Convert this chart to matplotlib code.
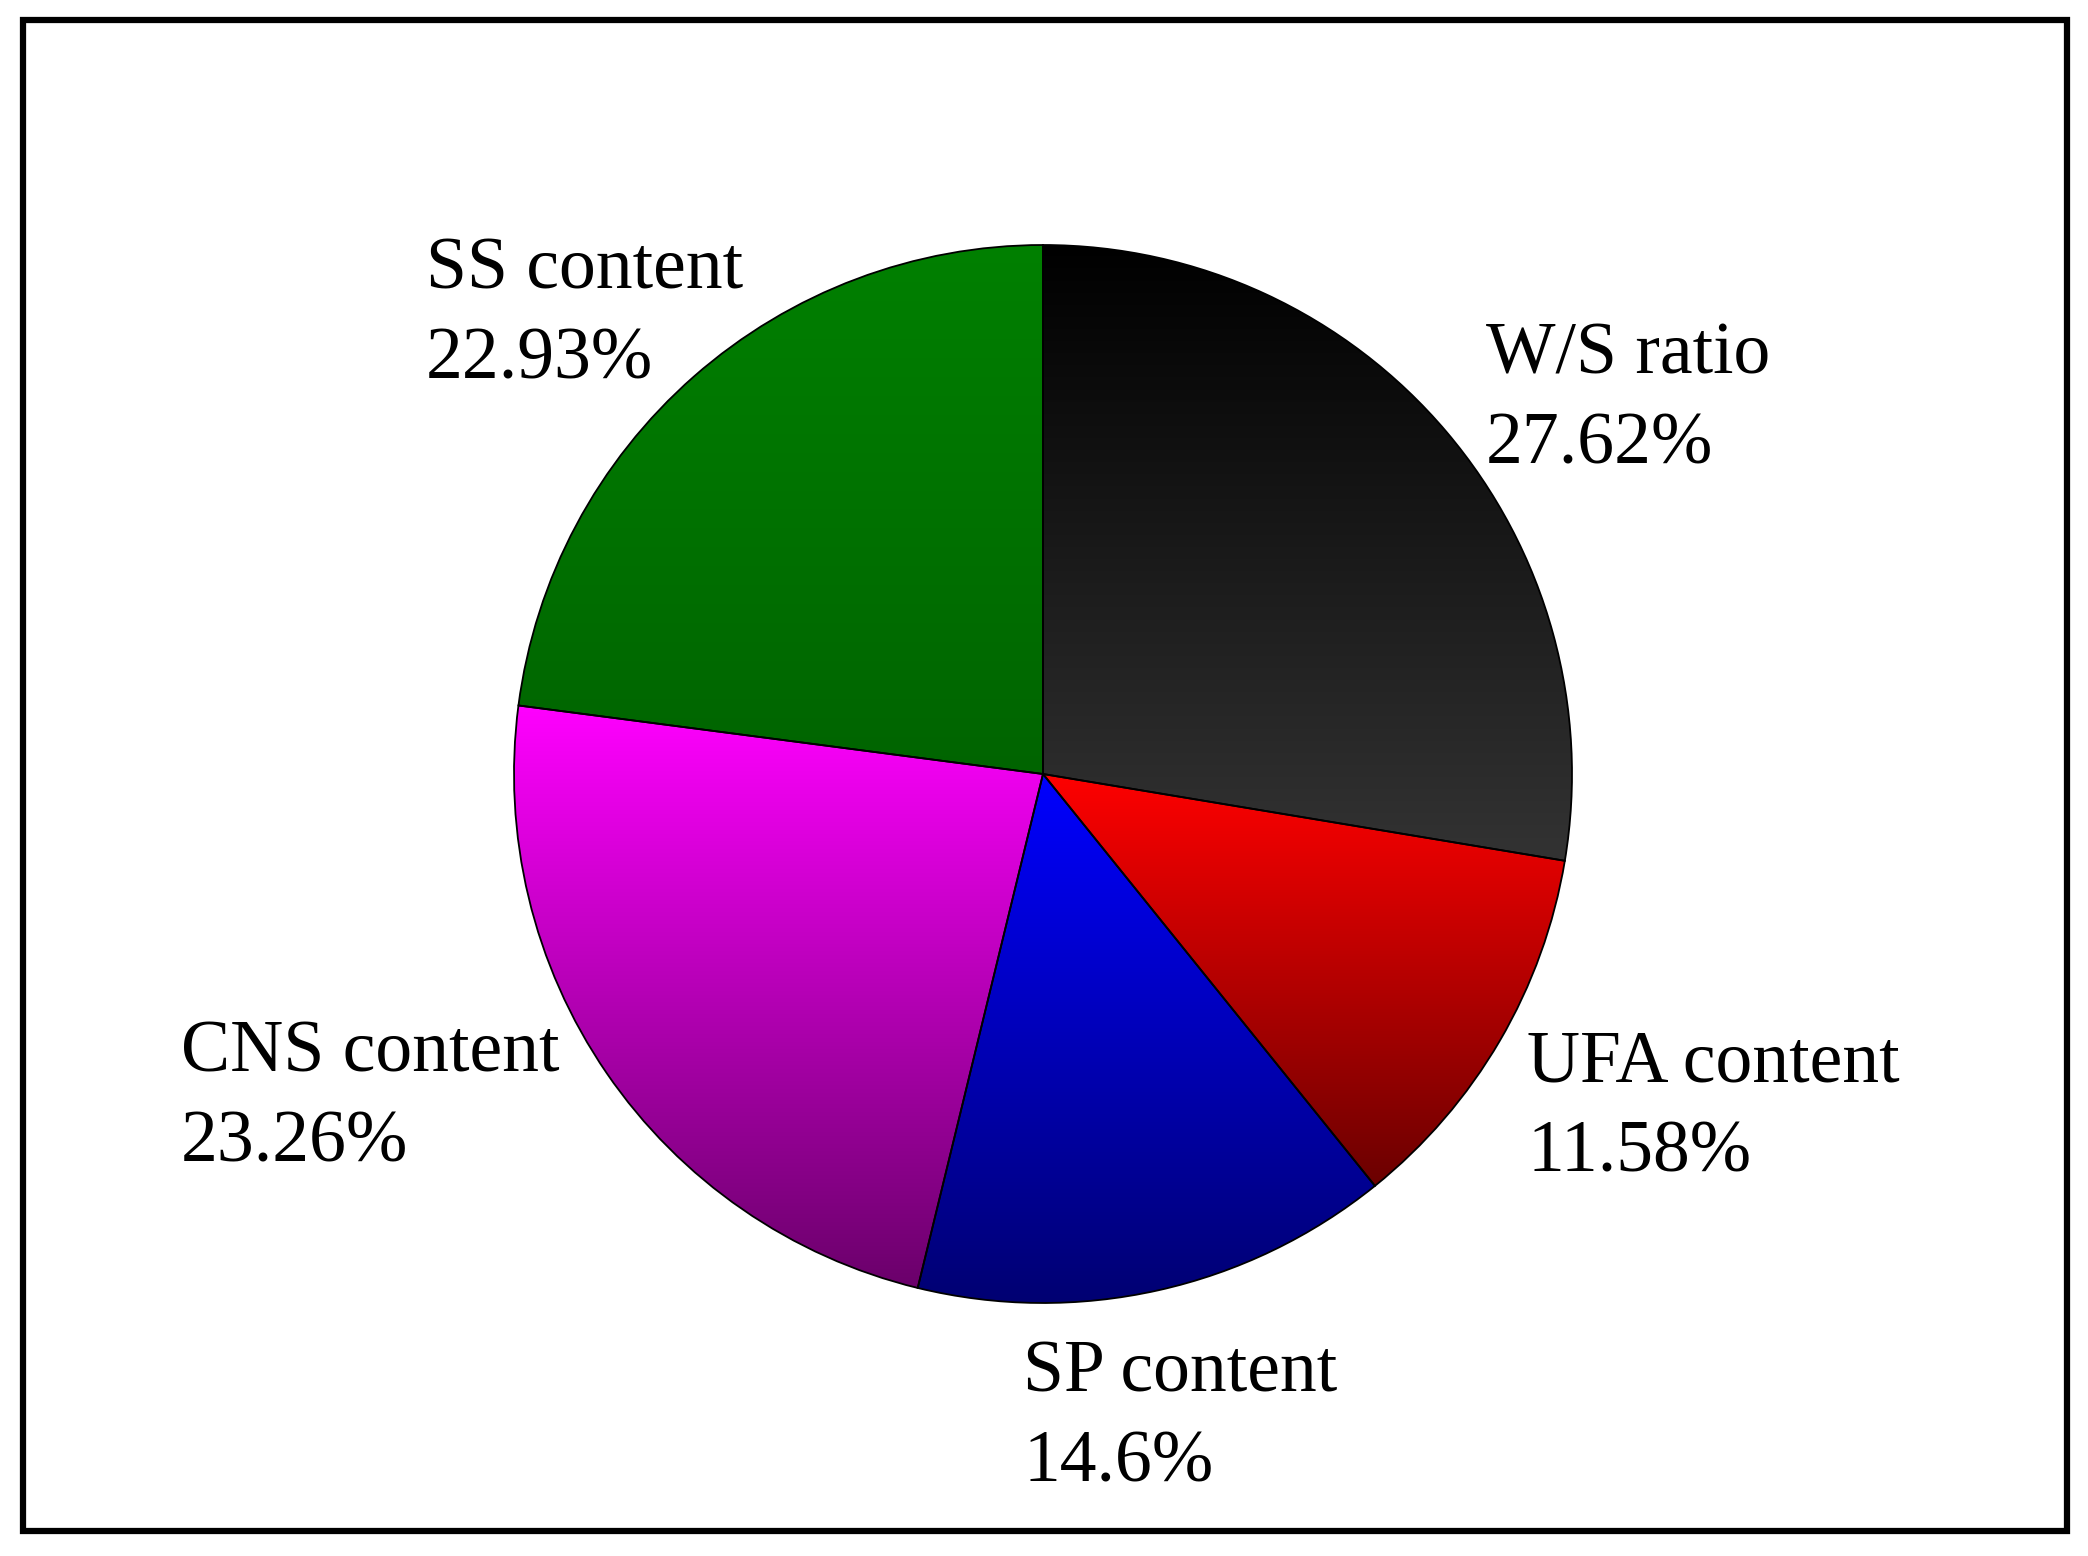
import numpy as np
import matplotlib
matplotlib.use("Agg")
import matplotlib.pyplot as plt
from matplotlib.colors import to_rgb
from matplotlib.patches import Rectangle

labels = ["W/S ratio", "UFA content", "SP content", "CNS content", "SS content"]
values = [27.62, 11.58, 14.6, 23.26, 22.93]
value_text = ["27.62%", "11.58%", "14.6%", "23.26%", "22.93%"]
top_colors = ["#000000", "#ff0000", "#0000ff", "#ff00ff", "#008000"]
bottom_colors = ["#333333", "#6a0000", "#000070", "#6a006a", "#006400"]

W, H = 2088, 1556
fig = plt.figure(figsize=(W / 100, H / 100), dpi=100)
fig.patch.set_facecolor("white")
ax = fig.add_axes([0, 0, 1, 1])

cx, cy, r = 1043, H - 774, 529
wedges, _ = ax.pie(values, startangle=90, counterclock=False, center=(cx, cy),
                   radius=r, wedgeprops=dict(edgecolor="black", linewidth=1.3))

for w, c0, c1 in zip(wedges, top_colors, bottom_colors):
    verts = w.get_path().vertices
    ymin, ymax = verts[:, 1].min(), verts[:, 1].max()
    xmin, xmax = verts[:, 0].min(), verts[:, 0].max()
    n = 256
    t = np.linspace(0, 1, n)[:, None]
    a, b = np.array(to_rgb(c0)), np.array(to_rgb(c1))
    grad = (a * (1 - t) + b * t)[:, None, :]
    grad = np.repeat(grad, 2, axis=1)
    im = ax.imshow(grad, extent=(xmin - 2, xmax + 2, ymin - 2, ymax + 2),
                   origin="upper", aspect="auto", zorder=1, interpolation="bilinear")
    im.set_clip_path(w)
    w.set_facecolor("none")
    w.set_zorder(2)

label_x = [1486, 1527, 1023, 181, 426]
label_y = [373, 1081, 1392, 1072, 288]
line_gap = 90
font = dict(family=["Liberation Serif", "DejaVu Serif"], fontsize=53, color="black")
for lab, vt, x, y in zip(labels, value_text, label_x, label_y):
    ax.text(x, H - y, lab, ha="left", va="baseline", **font)
    ax.text(x, H - y - line_gap, vt, ha="left", va="baseline", **font)

ax.add_patch(Rectangle((23, H - 1531), 2067 - 23, 1531 - 20, fill=False,
                       edgecolor="black", linewidth=4.5, zorder=5))

ax.set_xlim(0, W)
ax.set_ylim(0, H)
ax.set_aspect("equal")
ax.axis("off")
fig.savefig("out.png", dpi=100, facecolor="white")
